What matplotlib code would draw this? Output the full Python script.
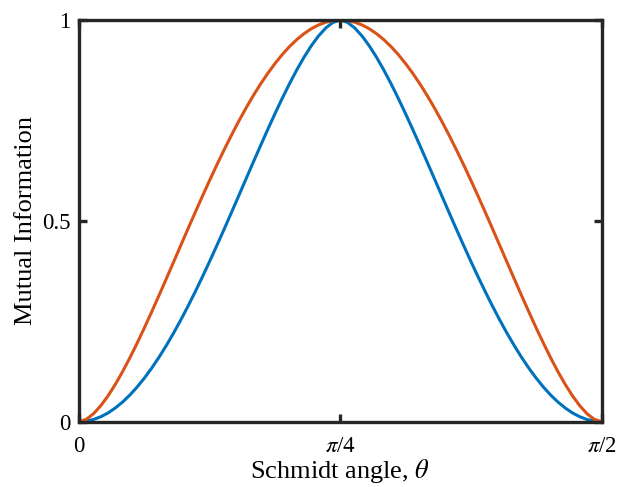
import matplotlib
matplotlib.use('Agg')
import matplotlib.pyplot as plt
import numpy as np

# Schmidt angle in degrees, read every 1.25 deg from 0 to 90
theta_deg = [0, 1.25, 2.5, 3.75, 5, 6.25, 7.5, 8.75, 10, 11.25, 12.5, 13.75, 15,
             16.25, 17.5, 18.75, 20, 21.25, 22.5, 23.75, 25, 26.25, 27.5, 28.75,
             30, 31.25, 32.5, 33.75, 35, 36.25, 37.5, 38.75, 40, 41.25, 42.5, 43.75,
             45, 46.25, 47.5, 48.75, 50, 51.25, 52.5, 53.75, 55, 56.25, 57.5, 58.75,
             60, 61.25, 62.5, 63.75, 65, 66.25, 67.5, 68.75, 70, 71.25, 72.5, 73.75,
             75, 76.25, 77.5, 78.75, 80, 81.25, 82.5, 83.75, 85, 86.25, 87.5, 88.75, 90]

# orange curve (upper)
mi_orange = [0, 0.0059, 0.0199, 0.0398, 0.0644, 0.0928, 0.1245, 0.1587, 0.1952,
             0.2333, 0.2729, 0.3134, 0.3546, 0.3962, 0.4379, 0.4795, 0.5207, 0.5612,
             0.6009, 0.6396, 0.6770, 0.7131, 0.7476, 0.7804, 0.8113, 0.8402, 0.8670,
             0.8916, 0.9139, 0.9338, 0.9511, 0.9659, 0.9782, 0.9877, 0.9945, 0.9987,
             1.0,
             0.9987, 0.9945, 0.9877, 0.9782, 0.9659, 0.9511, 0.9338, 0.9139, 0.8916,
             0.8670, 0.8402, 0.8113, 0.7804, 0.7476, 0.7131, 0.6770, 0.6396, 0.6009,
             0.5612, 0.5207, 0.4795, 0.4379, 0.3962, 0.3546, 0.3134, 0.2729, 0.2333,
             0.1952, 0.1587, 0.1245, 0.0928, 0.0644, 0.0398, 0.0199, 0.0059, 0]

# blue curve (lower)
mi_blue = [0, 0.0013, 0.0055, 0.0123, 0.0218, 0.0341, 0.0489, 0.0662, 0.0861,
           0.1084, 0.1330, 0.1598, 0.1887, 0.2196, 0.2524, 0.2869, 0.3230, 0.3604,
           0.3991, 0.4388, 0.4793, 0.5205, 0.5621, 0.6038, 0.6454, 0.6866, 0.7271,
           0.7667, 0.8048, 0.8413, 0.8755, 0.9072, 0.9356, 0.9602, 0.9801, 0.9941,
           1.0,
           0.9941, 0.9801, 0.9602, 0.9356, 0.9072, 0.8755, 0.8413, 0.8048, 0.7667,
           0.7271, 0.6866, 0.6454, 0.6038, 0.5621, 0.5205, 0.4793, 0.4388, 0.3991,
           0.3604, 0.3230, 0.2869, 0.2524, 0.2196, 0.1887, 0.1598, 0.1330, 0.1084,
           0.0861, 0.0662, 0.0489, 0.0341, 0.0218, 0.0123, 0.0055, 0.0013, 0]

xtick_labels = ['0', r'$\pi$/4', r'$\pi$/2']
ytick_labels = ['0', '0.5', '1']

plt.rcParams['font.family'] = ['Liberation Serif', 'DejaVu Serif']
plt.rcParams['mathtext.fontset'] = 'stix'

th = np.deg2rad(theta_deg)

fig = plt.figure(figsize=(6.29, 4.87), dpi=100)
ax = fig.add_axes([0.1256, 0.1341, 0.8307, 0.8248])

ax.plot(th, mi_blue, color='#0072BD', lw=2.2, solid_capstyle='round')
ax.plot(th, mi_orange, color='#D95319', lw=2.2, solid_capstyle='round')

ax.set_xlim(0, np.pi / 2)
ax.set_ylim(0, 1)
ax.set_xticks([0, np.pi / 4, np.pi / 2])
ax.set_xticklabels(xtick_labels)
ax.set_yticks([0, 0.5, 1])
ax.set_yticklabels(ytick_labels)

for s in ax.spines.values():
    s.set_linewidth(2.4)
    s.set_color('#262626')
ax.tick_params(direction='in', length=6, width=2.4, color='#262626',
               top=True, right=True, labelsize=16.5)
ax.tick_params(axis='x', pad=10)
ax.tick_params(axis='y', pad=6)

ax.set_xlabel(r'Schmidt angle, $\theta$', fontsize=19, labelpad=0.5)
ax.set_ylabel('Mutual Information', fontsize=19, labelpad=4)

fig.savefig('out.png', dpi=100)
